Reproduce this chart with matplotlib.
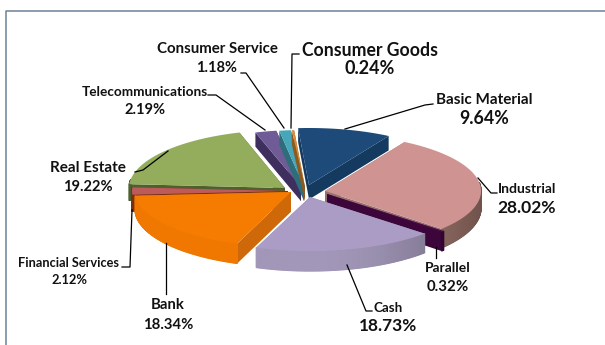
import numpy as np
import matplotlib
matplotlib.use("Agg")
import matplotlib.pyplot as plt
from matplotlib.colors import to_rgb
from matplotlib.patches import Polygon

# Sector shares, clockwise from the top
sectors = ["Basic Material", "Industrial", "Parallel", "Cash", "Bank",
           "Financial Services", "Real Estate", "Telecommunications",
           "Consumer Service", "Consumer Goods"]
shares = [9.64, 28.02, 0.32, 18.73, 18.34, 2.12, 19.22, 2.19, 1.18, 0.24]

top_colors = ["#1d4a78", "#cf9492", "#4c0a48", "#ab9cc6", "#f57c00",
              "#bd5a5a", "#93ad5c", "#6f5b95", "#46a6ba", "#d98b3a"]
cut_colors = ["#143a60", "#94706e", "#3c063a", "#8d86a0", "#cf6808",
              "#7a2f10", "#4f6030", "#3e2f5e", "#2e6d7a", "#8a5a20"]
side_colors = ["#143a60", "#a37a70", "#3c063a", "#a297b8", "#f07800",
               "#7a2f10", "#4f6030", "#3e2f5e", "#2e6d7a", "#8a5a20"]

# Per-slice pull away from the pie centre and vertical radius, in pixels
pull_x = [6, 22, 24, 7, -12, -15, -18, -2, 1, 2]
pull_y = [-5, 1, 4, 7, 2, 1, -2, -3, -3, -3]
radius_y = [57, 57, 56, 54, 55, 56, 58, 57, 57, 57]

# Slices painted back to front
draw_order = [6, 7, 8, 9, 0, 1, 5, 4, 2, 3]

# name, percent, x centre, name y, percent y, name size, percent size
labels = [
    ("Basic Material", "9.64%", 484, 100, 119, 11, 12.8),
    ("Industrial", "28.02%", 527, 189, 208, 10, 12.6),
    ("Parallel", "0.32%", 448, 268, 287, 10, 10.8),
    ("Cash", "18.73%", 388, 308, 326, 9.6, 12.4),
    ("Bank", "18.34%", 168, 305, 325, 10.7, 10.7),
    ("Financial Services", "2.12%", 69, 263, 280, 9.2, 9.3),
    ("Real Estate", "19.22%", 88, 168, 187, 11, 10.6),
    ("Telecommunications", "2.19%", 145, 92, 110, 9.8, 10.6),
    ("Consumer Service", "1.18%", 217, 49, 68, 10.8, 10.5),
    ("Consumer Goods", "0.24%", 370, 50, 69, 12.7, 13),
]
leaders = [
    [(433, 104), (425, 105), (345, 129)],
    [(497, 193), (491, 193), (478, 178)],
    [(436, 247), (436, 258)],
    [(372, 311), (366, 311), (347, 265)],
    [(166, 294), (166, 243)],
    [(122, 267), (130, 267), (132, 210)],
    [(135, 172), (143, 170), (168, 151)],
    [(208, 95), (216, 95), (265, 130)],
    [(241, 73), (246, 73), (284, 128)],
    [(299, 54), (292, 54), (291, 128)],
]

CX, CY = 303, 190
RX = 156
ROTATION = -4
DEPTH = 17


def rim(angle, index):
    # Position on the top face of a slice for a clockwise angle from 12 o'clock
    rad = np.radians(angle)
    x = CX + pull_x[index] + RX * np.sin(rad)
    y = CY + pull_y[index] - radius_y[index] * np.cos(rad)
    return x, y


def depth_at(angle):
    return DEPTH - 3 * np.cos(np.radians(angle))


def shade(color, angle):
    # Curved sides darken towards the right of the front
    rgb = np.array(to_rgb(color))
    k = 1.0 - 0.32 * np.clip(np.sin(np.radians(angle)), 0, 1) ** 2
    return tuple(np.clip(rgb * k, 0, 1))


fig = plt.figure(figsize=(6.05, 3.45), dpi=100)
ax = fig.add_axes([0, 0, 1, 1])
ax.set_xlim(0, 605)
ax.set_ylim(345, 0)
ax.axis("off")

# Chart frame, open on the right and at the bottom
ax.plot([6, 6, 605], [345, 11, 11], color="#6b8296", lw=1.1)

bounds = ROTATION + np.concatenate([[0], np.cumsum(shares)]) * 360 / sum(shares)

for i in draw_order:
    a0, a1 = bounds[i], bounds[i + 1]
    angles = np.linspace(a0, a1, max(int(a1 - a0) * 2, 2) + 1)
    apex = (CX + pull_x[i], CY + pull_y[i])
    arc = [rim(a, i) for a in angles]

    # Cut walls running from the centre out to the slice corners
    for a, corner in ((a0, arc[0]), (a1, arc[-1])):
        d = depth_at(a)
        ax.add_patch(Polygon([apex, corner, (corner[0], corner[1] + d), (apex[0], apex[1] + d)],
                             closed=True, fc=cut_colors[i], ec="none", zorder=2))

    # Outer wall, only the part that faces forward
    for a, b, p, q in zip(angles[:-1], angles[1:], arc[:-1], arc[1:]):
        mid = (a + b) / 2
        if np.cos(np.radians(mid)) < 0.15:
            c = shade(side_colors[i], mid)
            ax.add_patch(Polygon([p, q, (q[0], q[1] + depth_at(b)), (p[0], p[1] + depth_at(a))],
                                 closed=True, fc=c, ec=c, lw=0.9, zorder=2))

    ax.add_patch(Polygon([apex] + arc, closed=True, fc=top_colors[i], ec="none", zorder=2))

for pts in leaders:
    xs, ys = zip(*pts)
    ax.plot(xs, ys, color="black", lw=0.9, zorder=3)

for name, pct, x, y0, y1, s0, s1 in labels:
    ax.text(x, y0, name, ha="center", va="center", family="Lato", weight="bold",
            fontsize=s0, color="#111111", zorder=4)
    ax.text(x, y1, pct, ha="center", va="center", family="Lato", weight="bold",
            fontsize=s1, color="#111111", zorder=4)

fig.savefig("out.png", dpi=100, facecolor="white")
